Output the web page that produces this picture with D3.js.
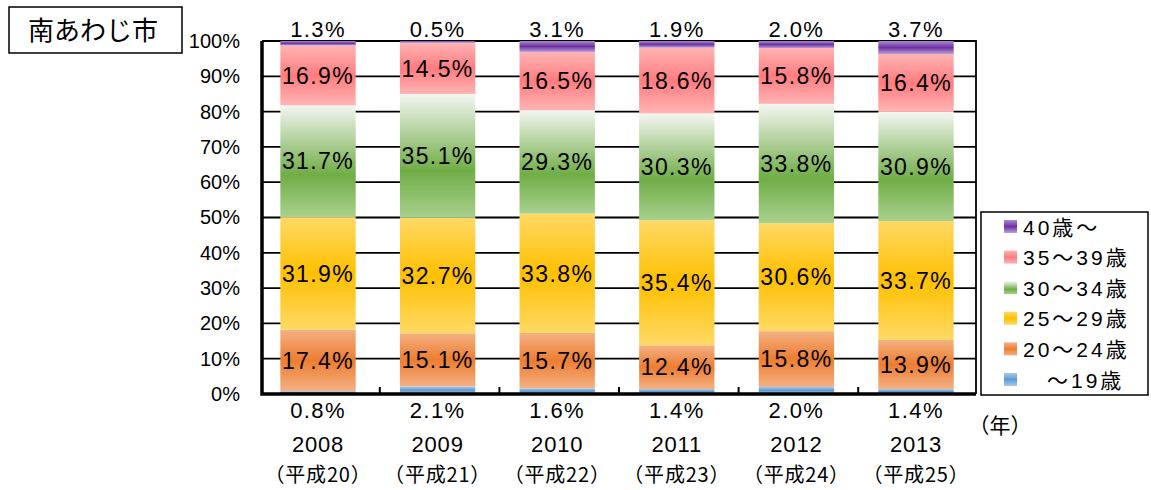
<!DOCTYPE html>
<html>
<head>
<meta charset="utf-8">
<script src="https://cdn.jsdelivr.net/npm/d3@7"></script>
<style>
  body { margin: 0; background: #fff; }
  svg { display: block; }
</style>
</head>
<body>
<div id="chart"></div>
<script>
// data (percent of births by mother's age)
const years = ["2008", "2009", "2010", "2011", "2012", "2013"];
const eras = ["（平成20）", "（平成21）", "（平成22）", "（平成23）", "（平成24）", "（平成25）"];
const ageKeys = ["u19", "a20", "a25", "a30", "a35", "o40"];
const ageLabels = ["\u3000～19歳", "20～24歳", "25～29歳", "30～34歳", "35～39歳", "40歳～"];
const under19 = [0.8, 2.1, 1.6, 1.4, 2.0, 1.4];
const age20to24 = [17.4, 15.1, 15.7, 12.4, 15.8, 13.9];
const age25to29 = [31.9, 32.7, 33.8, 35.4, 30.6, 33.7];
const age30to34 = [31.7, 35.1, 29.3, 30.3, 33.8, 30.9];
const age35to39 = [16.9, 14.5, 16.5, 18.6, 15.8, 16.4];
const over40 = [1.3, 0.5, 3.1, 1.9, 2.0, 3.7];
const yTicks = [0, 10, 20, 30, 40, 50, 60, 70, 80, 90, 100];

// gradient stops per series (light edges, saturated middle)
const grads = {
  u19: [["0%", "#a9c9ea"], ["50%", "#5b9bd5"], ["100%", "#a9c9ea"]],
  a20: [["0%", "#f4b183"], ["50%", "#ed7d31"], ["100%", "#f4b183"]],
  a25: [["0%", "#ffd966"], ["50%", "#ffc000"], ["100%", "#ffd966"]],
  a30: [["0%", "#f4f6f2"], ["62%", "#70ad47"], ["100%", "#a9d18e"]],
  a35: [["0%", "#ffb4b4"], ["50%", "#ff7c80"], ["100%", "#ffb4b4"]],
  o40: [["0%", "#a78bd2"], ["50%", "#7030a0"], ["100%", "#b89fdc"]]
};

const table = years.map((yr, i) => ({
  year: yr, era: eras[i],
  u19: under19[i], a20: age20to24[i], a25: age25to29[i],
  a30: age30to34[i], a35: age35to39[i], o40: over40[i]
}));

const width = 1151, height = 490;
const plotL = 262, plotR = 976, plotT = 41, plotB = 394;
const font = "'Liberation Sans', 'Noto Sans CJK JP', sans-serif";

const svg = d3.select("#chart").append("svg")
  .attr("width", width)
  .attr("height", height)
  .attr("font-family", font);

const defs = svg.append("defs");
ageKeys.forEach(k => {
  const g = defs.append("linearGradient")
    .attr("id", "g-" + k)
    .attr("x1", 0).attr("y1", 0).attr("x2", 0).attr("y2", 1);
  grads[k].forEach(s => g.append("stop").attr("offset", s[0]).attr("stop-color", s[1]));
});

const x = d3.scaleBand().domain(years).range([plotL, plotR]).paddingInner(0.37).paddingOuter(0.17);
const y = d3.scaleLinear().domain([0, 100]).range([plotB, plotT]);

// gridlines behind bars
svg.append("g")
  .selectAll("line")
  .data(yTicks.filter(t => t > 0 && t < 100))
  .join("line")
  .attr("x1", plotL).attr("x2", plotR)
  .attr("y1", d => y(d)).attr("y2", d => y(d))
  .attr("stroke", "#000")
  .attr("stroke-width", 1.8);

// frame top / right
svg.append("path")
  .attr("d", `M${plotL},${plotT}H${plotR}V${plotB}`)
  .attr("fill", "none")
  .attr("stroke", "#000")
  .attr("stroke-width", 1.8);

const series = d3.stack().keys(ageKeys)(table);

const layer = svg.append("g")
  .selectAll("g")
  .data(series)
  .join("g")
  .attr("fill", d => `url(#g-${d.key})`);

layer.selectAll("rect")
  .data(d => d)
  .join("rect")
  .attr("x", d => x(d.data.year) - 2)
  .attr("width", x.bandwidth())
  .attr("y", d => y(d[1]))
  .attr("height", d => y(d[0]) - y(d[1]));

// labels inside the middle four segments
svg.append("g")
  .selectAll("g")
  .data(series.filter(s => s.key !== "u19" && s.key !== "o40"))
  .join("g")
  .selectAll("text")
  .data(d => d)
  .join("text")
  .attr("x", d => x(d.data.year) - 2 + x.bandwidth() / 2)
  .attr("y", d => y((d[0] + d[1]) / 2))
  .attr("dy", "0.36em")
  .attr("text-anchor", "middle")
  .attr("font-size", 23)
  .attr("letter-spacing", 1.4)
  .attr("fill", "#000")
  .text(d => (d[1] - d[0]).toFixed(1) + "%");

// 40+ values above bars
svg.append("g")
  .selectAll("text")
  .data(table)
  .join("text")
  .attr("x", d => x(d.year) - 2 + x.bandwidth() / 2)
  .attr("y", 29)
  .attr("dy", "0.36em")
  .attr("text-anchor", "middle")
  .attr("font-size", 22)
  .attr("letter-spacing", 1.4)
  .text(d => d.o40.toFixed(1) + "%");

// x labels: under-19 value, year, era
const xl = svg.append("g")
  .selectAll("g")
  .data(table)
  .join("g")
  .attr("transform", d => `translate(${x(d.year) - 2 + x.bandwidth() / 2},0)`)
  .attr("text-anchor", "middle");
xl.append("text")
  .attr("y", 410).attr("dy", "0.36em")
  .attr("font-size", 22).attr("letter-spacing", 1.4)
  .text(d => d.u19.toFixed(1) + "%");
xl.append("text")
  .attr("y", 444).attr("dy", "0.36em")
  .attr("font-size", 22).attr("letter-spacing", 0.8)
  .text(d => d.year);
xl.append("text")
  .attr("y", 475).attr("dy", "0.36em")
  .attr("font-size", 20)
  .attr("letter-spacing", 0.8)
  .attr("font-family", "'Noto Sans CJK JP', sans-serif")
  .text(d => d.era);

svg.append("text")
  .attr("x", 1000).attr("y", 425).attr("dy", "0.36em")
  .attr("text-anchor", "middle")
  .attr("font-size", 21)
  .attr("font-family", "'Noto Sans CJK JP', sans-serif")
  .text("（年）");

// y axis labels
const yAxis = svg.append("g")
  .attr("transform", `translate(${plotL},0)`)
  .call(d3.axisLeft(y).tickValues(yTicks).tickFormat(d => d + "%").tickSize(0).tickPadding(22));
yAxis.select(".domain").remove();
yAxis.selectAll("text").attr("font-size", 20).attr("font-family", font).attr("fill", "#000");

// category boundary ticks on x axis
svg.append("g")
  .selectAll("line")
  .data(years.slice(1))
  .join("line")
  .attr("x1", d => x(d) - x.step() * x.paddingInner() / 2)
  .attr("x2", d => x(d) - x.step() * x.paddingInner() / 2)
  .attr("y1", plotB).attr("y2", plotB - 7)
  .attr("stroke", "#000").attr("stroke-width", 2);

// axis lines
svg.append("path")
  .attr("d", `M${plotL},${plotT}V${plotB}H${plotR}`)
  .attr("fill", "none")
  .attr("stroke", "#000")
  .attr("stroke-width", 3.5);

// title box
svg.append("rect")
  .attr("x", 9).attr("y", 7).attr("width", 173).attr("height", 46)
  .attr("fill", "#fff").attr("stroke", "#000").attr("stroke-width", 1.5);
svg.append("text")
  .attr("x", 93).attr("y", 31).attr("dy", "0.36em")
  .attr("text-anchor", "middle")
  .attr("font-size", 26)
  .attr("font-family", "'Noto Sans CJK JP', sans-serif")
  .text("南あわじ市");

// legend
svg.append("rect")
  .attr("x", 981).attr("y", 212).attr("width", 167).attr("height", 183)
  .attr("fill", "#fff").attr("stroke", "#000").attr("stroke-width", 1.5);
const leg = svg.append("g")
  .selectAll("g")
  .data(ageKeys.slice().reverse())
  .join("g")
  .attr("transform", (d, i) => `translate(1004,${227 + i * 30.6})`);
leg.append("rect")
  .attr("y", -7).attr("width", 13).attr("height", 13)
  .attr("fill", d => `url(#g-${d})`);
leg.append("text")
  .attr("x", 19).attr("dy", "0.36em")
  .attr("font-size", 21)
  .attr("letter-spacing", 3)
  .text(d => ageLabels[ageKeys.indexOf(d)]);
</script>
</body>
</html>
